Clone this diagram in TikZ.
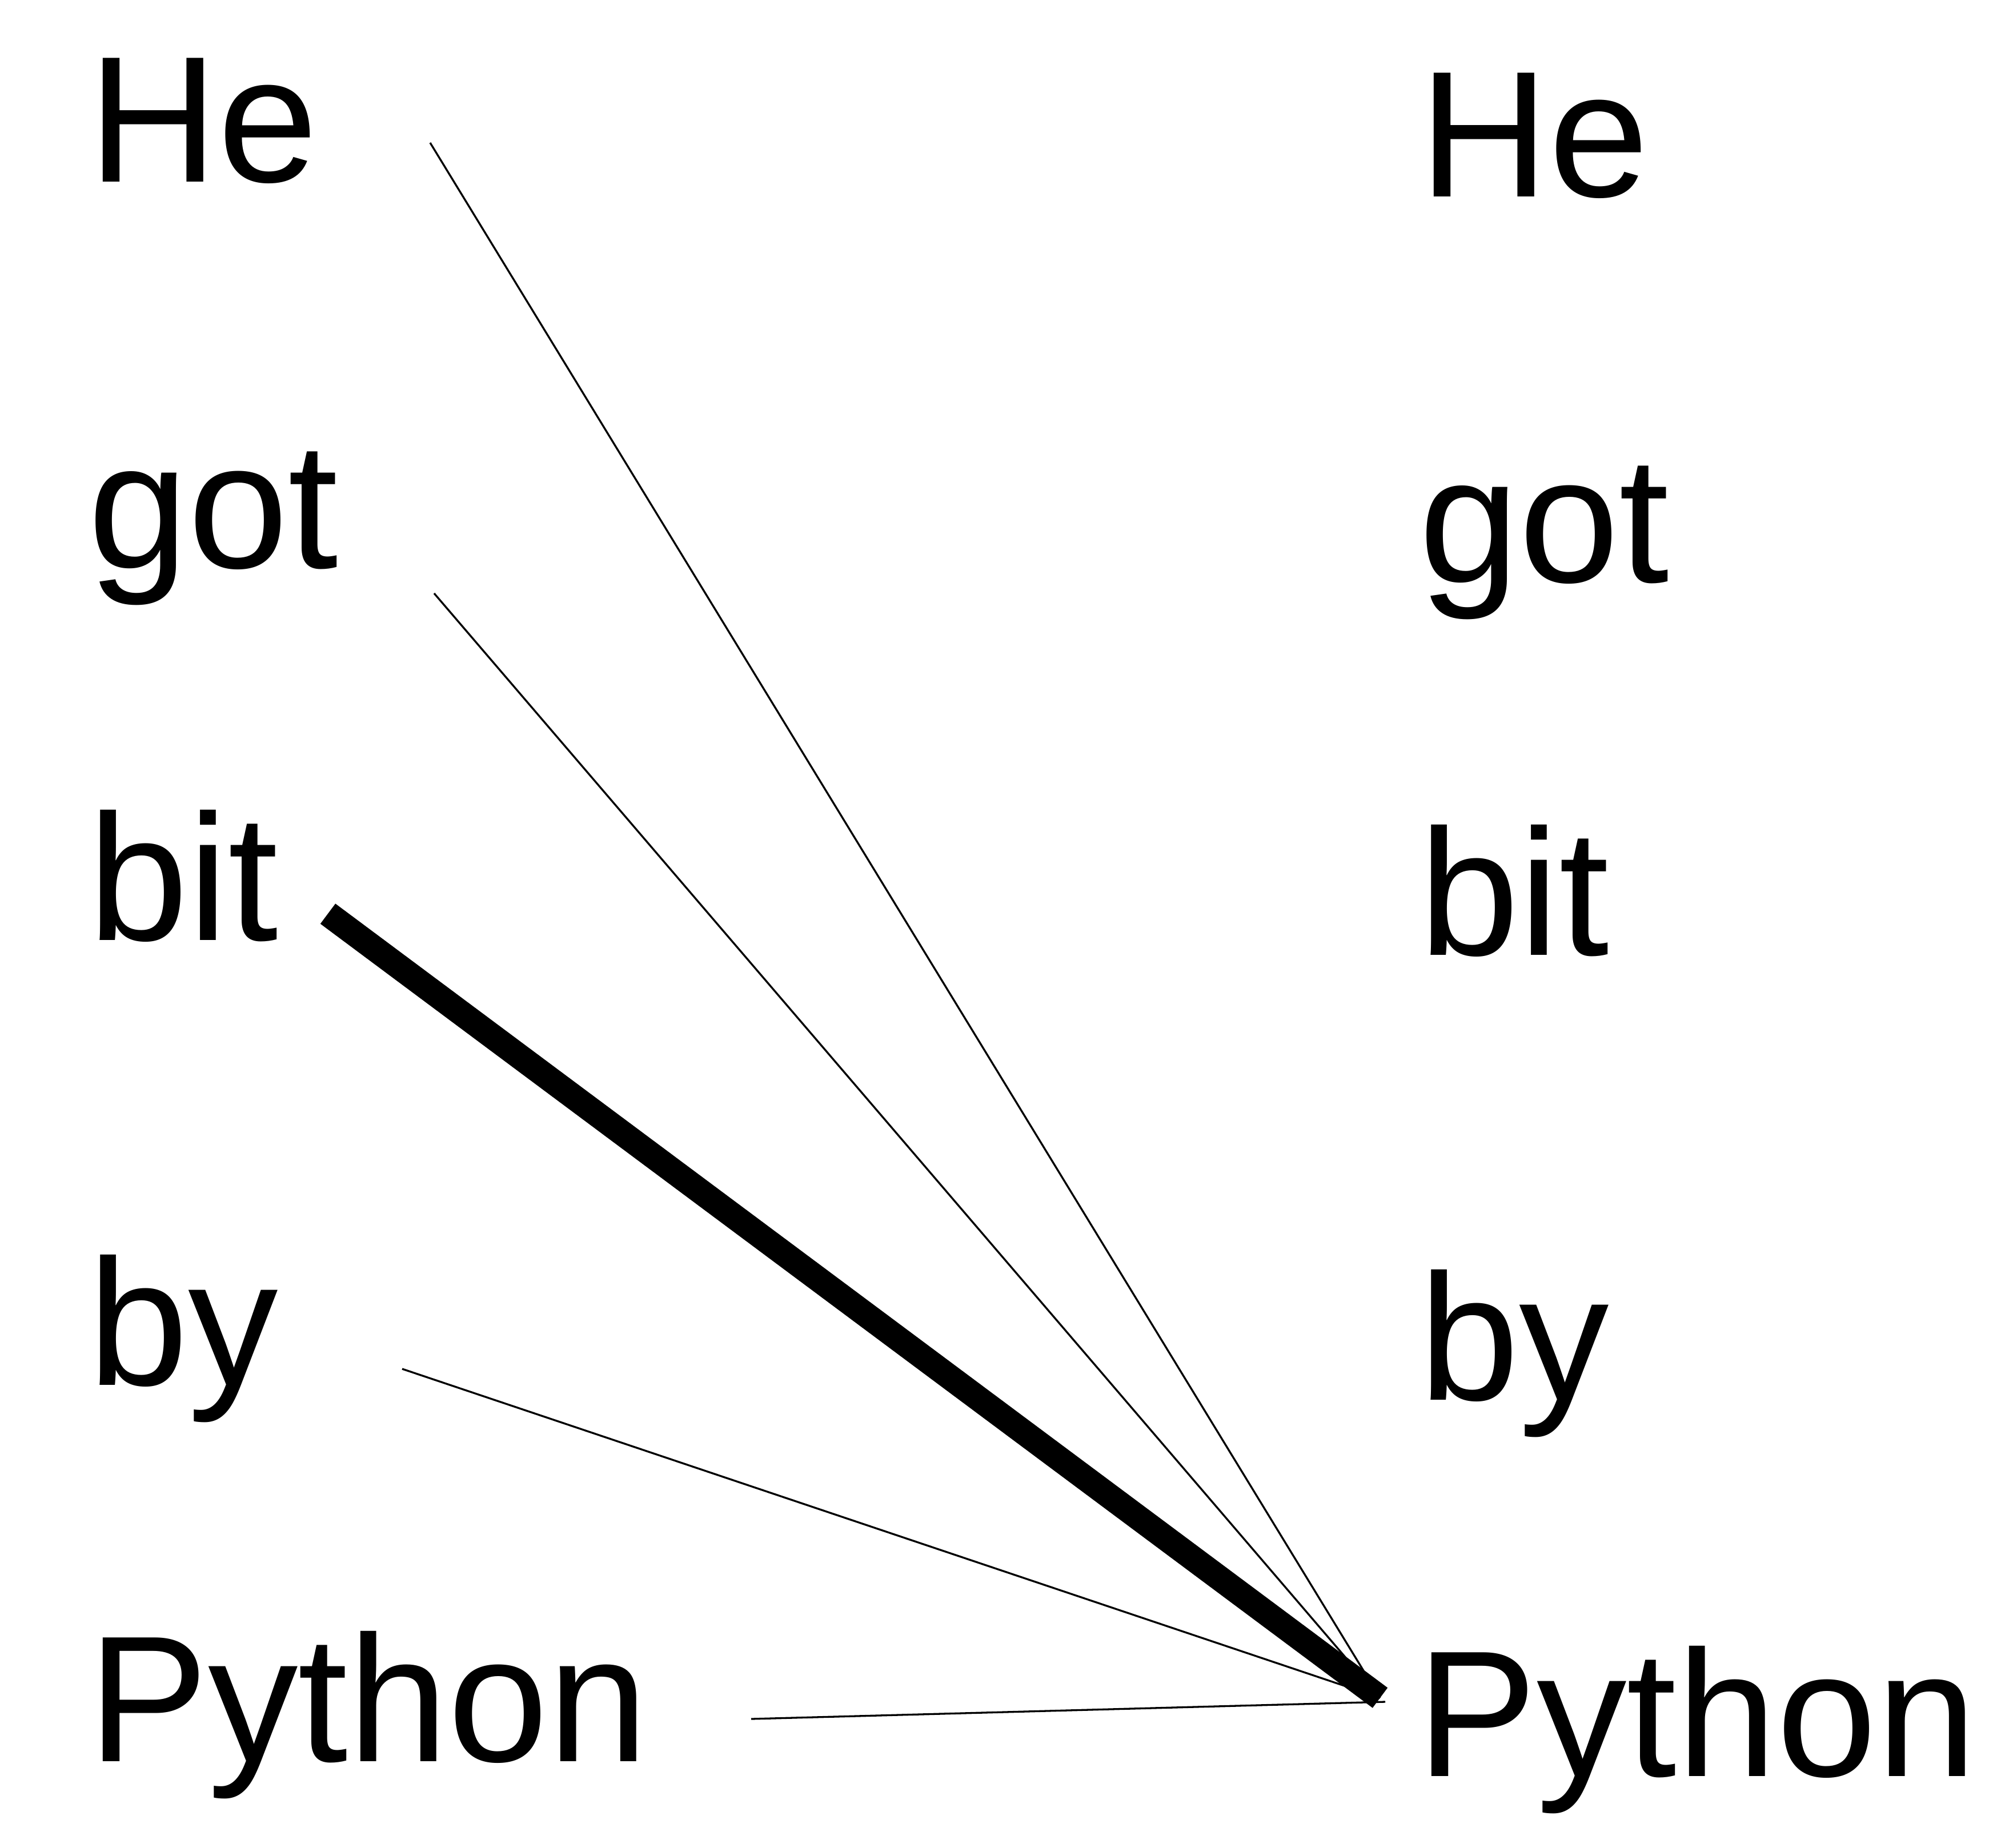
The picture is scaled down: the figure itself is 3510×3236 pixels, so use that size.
\documentclass[tikz,border=0pt]{standalone}
\usepackage{fontspec}
\setmainfont{Liberation Sans}
\begin{document}
\begin{tikzpicture}[x=0.1pt,y=-0.1pt,
  word/.style={anchor=base west,inner sep=0pt,outer sep=0pt,font=\fontsize{31.5}{36}\selectfont},
  thinlink/.style={draw=black,line width=0.33pt},
  thicklink/.style={draw=black,line width=4.4pt,line cap=butt}]
\useasboundingbox (0,0) rectangle (3510,3236);
% left column
\node[word] (l1) at (154,319)  {He};
\node[word] (l2) at (154,994)  {got};
\node[word] (l3) at (154,1646) {bit};
\node[word] (l4) at (154,2425) {by};
\node[word] (l5) at (154,3084) {Python};
% right column
\node[word] (r1) at (2484,345)  {He};
\node[word] (r2) at (2484,1020) {got};
\node[word] (r3) at (2484,1672) {bit};
\node[word] (r4) at (2484,2451) {by};
\node[word] (r5) at (2480,3110) {Python};
% connector ends
\coordinate (s1) at (753,250);
\coordinate (s2) at (760,1039);
\coordinate (s3) at (574,1600);
\coordinate (s4) at (704,2397);
\coordinate (s5) at (1315,3010);
\coordinate (hub) at (2416,2973);
\coordinate (hub5) at (2425,2980);
% connectors
\draw[thinlink] (s1) -- (hub);
\draw[thinlink] (s2) -- (hub);
\draw[thinlink] (s4) -- (hub);
\draw[thinlink] (s5) -- (hub5);
\draw[thicklink] (s3) -- (hub);
\end{tikzpicture}
\end{document}
